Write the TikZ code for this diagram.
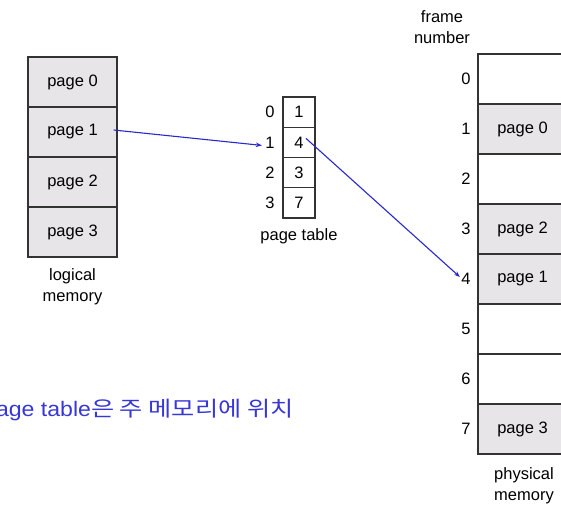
\documentclass[tikz,border=0pt]{standalone}
\usepackage{fontspec}
\setmainfont{Liberation Sans}
\newfontfamily\notefont[FakeStretch=1.1]{Liberation Sans}
\newfontfamily\krfont[FakeStretch=1.2]{Noto Sans CJK KR}
\usetikzlibrary{arrows.meta}
\definecolor{cellgray}{RGB}{231,229,231}
\definecolor{linkblue}{RGB}{40,40,205}
\definecolor{noteblue}{RGB}{55,55,215}
\begin{document}
\begin{tikzpicture}[x=1pt,y=-1pt,
        font=\fontsize{16.5}{21}\selectfont,
        cell/.style={draw=black!80,line width=1.2pt,fill=cellgray,minimum width=89pt,minimum height=50pt,inner sep=0pt},
        freecell/.style={cell,fill=white},
        entry/.style={draw=black!80,line width=1.2pt,minimum width=32pt,minimum height=30.25pt,inner sep=0pt},
        maplink/.style={draw=linkblue,line width=1.1pt,-{Stealth[length=6pt,width=4.5pt]}}]
        \useasboundingbox (0,0) rectangle (561,507);

        % logical memory
        \node[cell] (lp0) at (72.5,82) {page 0};
        \node[cell] (lp1) at (72.5,132) {page 1};
        \node[cell] (lp2) at (72.5,182) {page 2};
        \node[cell] (lp3) at (72.5,232) {page 3};
        \node[align=center] (lmem) at (72.5,287) {logical\\memory};

        % page table
        \node (ix0) at (270,112.1) {0};
        \node (ix1) at (270,142.4) {1};
        \node (ix2) at (270,172.6) {2};
        \node (ix3) at (270,202.9) {3};
        \node[entry] (pt0) at (299,112.1) {1};
        \node[entry] (pt1) at (299,142.4) {4};
        \node[entry] (pt2) at (299,172.6) {3};
        \node[entry] (pt3) at (299,202.9) {7};
        \node (ptab) at (299,236) {page table};

        % physical memory
        \node[align=center] (fnum) at (442,27) {frame\\number};
        \node[freecell] (pf0) at (522.5,79) {};
        \node[cell] (pf1) at (522.5,129) {page 0};
        \node[freecell] (pf2) at (522.5,179) {};
        \node[cell] (pf3) at (522.5,229) {page 2};
        \node[cell] (pf4) at (522.5,279) {page 1};
        \node[freecell] (pf5) at (522.5,329) {};
        \node[freecell] (pf6) at (522.5,379) {};
        \node[cell] (pf7) at (522.5,429) {page 3};
        \foreach \i in {0,...,7}
            \node (fn\i) at (466,79+50*\i) {\i};
        \node[align=center] (pmem) at (524,486) {physical\\memory};

        \draw[maplink] ([xshift=-4pt,yshift=2pt]lp1.east) -- ([yshift=-3pt]ix1.west);
        \draw[maplink] ([xshift=7pt,yshift=4pt]pt1.center) -- ([xshift=2pt,yshift=2pt]fn4.west);

        \node[anchor=east,text=noteblue,font=\fontsize{21}{25}\notefont] (note) at (297,410)
            {page table{\krfont 은 주 메모리에 위치}};
    \end{tikzpicture}
\end{document}
